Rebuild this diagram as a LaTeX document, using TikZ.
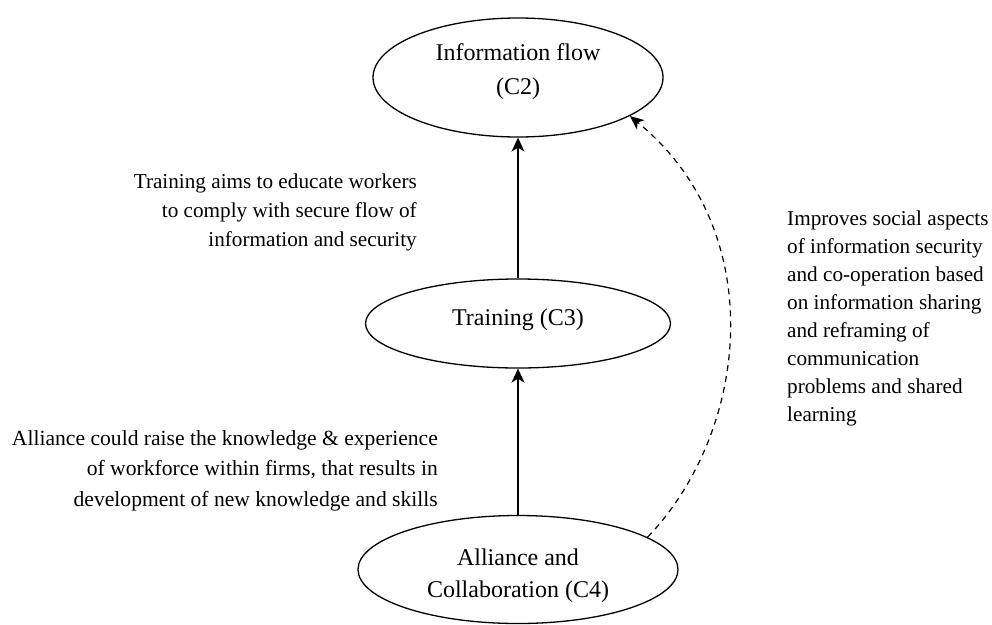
\documentclass[tikz,border=0pt]{standalone}
\usepackage{fontspec}
\setmainfont{Liberation Serif}
\usetikzlibrary{shapes.geometric,arrows.meta}

% multi-line text blocks whose reference point is the first baseline
\newcommand{\rblock}[1]{\begin{tabular}[t]{@{}r@{}}#1\end{tabular}}
\newcommand{\lblock}[1]{\begin{tabular}[t]{@{}l@{}}#1\end{tabular}}
\newcommand{\cblock}[1]{\begin{tabular}{@{}c@{}}#1\end{tabular}}

\begin{document}
\begin{tikzpicture}[x=1pt,y=-1pt,
  concept/.style={ellipse, draw, line width=1.3pt, inner sep=0pt,
    font=\fontsize{24}{34}\selectfont},
  note/.style={inner sep=0pt, font=\fontsize{21.2}{29}\selectfont},
  flow/.style={line width=1.6pt, -{Stealth[length=14pt,width=13pt,inset=4pt]}},
  hint/.style={line width=1.2pt, dash pattern=on 6pt off 5pt,
    -{Stealth[length=14pt,width=12pt,inset=4pt]}}
]
\useasboundingbox (0,0) rectangle (992,624);

% concepts
\node[concept, minimum width=290pt, minimum height=119pt] (c2) at (518,77.5)
  {\cblock{Information flow\\(C2)\rule[-24.8pt]{0pt}{0pt}}};
\node[concept, minimum width=305pt, minimum height=89pt] (c3) at (518,323.5)
  {\cblock{Training (C3)\rule[-20.8pt]{0pt}{0pt}}};
\node[concept, minimum width=320pt, minimum height=108pt,
  font=\fontsize{24}{32}\selectfont] (c4) at (518,569.5)
  {\cblock{\rule{0pt}{32.6pt}Alliance and\\Collaboration (C4)}};

% explanations
\node[note, anchor=base east] (n23) at (417,188)
  {\rblock{Training aims to educate workers\\to comply with secure flow of\\information and security}};
\node[note, anchor=base east, font=\fontsize{21.6}{30.5}\selectfont] (n34) at (438,445)
  {\rblock{Alliance could raise the knowledge \& experience\\of workforce within firms, that results in\\development of new knowledge and skills}};
\node[note, anchor=base west, font=\fontsize{21.2}{28.1}\selectfont] (n24) at (787,225)
  {\lblock{Improves social aspects\\of information security\\and co-operation based\\on information sharing\\and reframing of\\communication\\problems and shared\\learning}};

% connectors
\draw[flow] (c3) -- (c2);
\draw[flow] (c4) -- (c3);
\draw[hint] (c4.14) .. controls (750,430) and (770,230) .. (c2.-19);
\end{tikzpicture}
\end{document}
